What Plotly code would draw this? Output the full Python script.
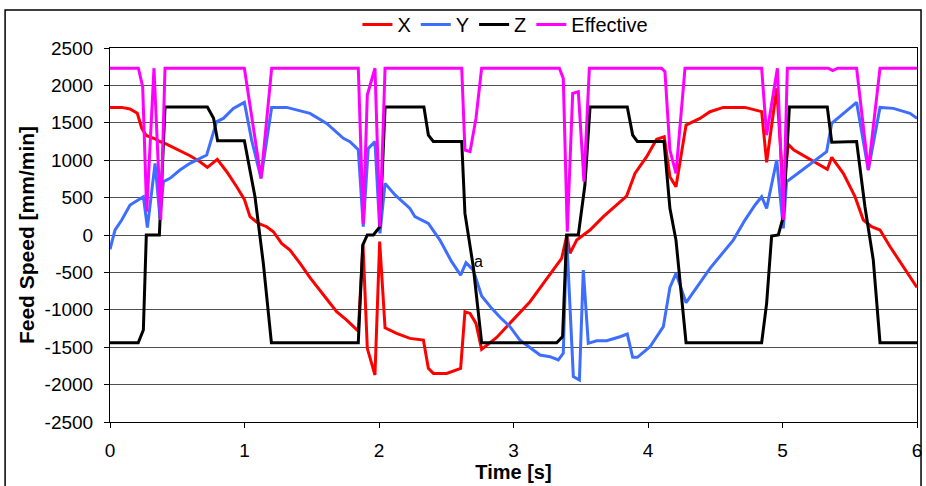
import plotly.graph_objects as go

# ---- data ----
x_t = [0, 0.087, 0.149, 0.203, 0.236, 0.27, 0.33, 0.37, 0.409, 0.533, 0.595, 0.669, 0.724, 0.798,
       0.868, 0.942, 0.999, 1.041, 1.103, 1.165, 1.215, 1.276, 1.338, 1.413, 1.487, 1.598, 1.685,
       1.76, 1.846, 1.881, 1.913, 1.97, 2.005, 2.045, 2.131, 2.23, 2.33, 2.367, 2.404, 2.503, 2.607,
       2.639, 2.677, 2.721, 2.763, 2.875, 2.999, 3.123, 3.222, 3.284, 3.358, 3.397, 3.42, 3.47,
       3.569, 3.668, 3.767, 3.841, 3.903, 3.99, 4.064, 4.121, 4.163, 4.208, 4.283, 4.386, 4.461,
       4.56, 4.721, 4.796, 4.845, 4.882, 4.957, 5.006, 5.043, 5.085, 5.13, 5.229, 5.333, 5.366,
       5.452, 5.539, 5.601, 5.663, 5.725, 5.8, 5.898, 6.0]
x_v = [1706, 1706, 1685, 1627, 1427, 1330, 1290, 1250, 1226, 1114, 1060, 980, 904, 1011,
       846, 646, 476, 245, 155, 111, 44, -112, -201, -380, -570, -825, -1026,
       -1137, -1285, -130, -1515, -1872, -89, -1240, -1316, -1382, -1405, -1783, -1850, -1850, -1783,
       -1026, -1048, -1182, -1529, -1369, -1137, -892, -647, -491, -313, 0, -245, -67,
       67, 245, 401, 521, 824, 1047, 1279, 1314, 779, 646, 1470, 1559, 1648,
       1706, 1706, 1671, 1649, 972, 1961, 600, 1212, 1136, 1090, 980, 877, 1038,
       824, 512, 200, 111, 66, -157, -424, -700]

y_t = [0, 0.037, 0.087, 0.149, 0.248, 0.278, 0.335, 0.372, 0.397, 0.446, 0.52, 0.595, 0.719,
       0.793, 0.843, 0.917, 0.999, 1.053, 1.123, 1.202, 1.314, 1.413, 1.487, 1.611, 1.735, 1.784,
       1.846, 1.883, 1.92, 1.97, 2.007, 2.045, 2.119, 2.23, 2.267, 2.367, 2.453, 2.54, 2.607, 2.647,
       2.701, 2.763, 2.838, 2.9, 2.974, 3.048, 3.197, 3.271, 3.333, 3.37, 3.395, 3.445, 3.49, 3.519,
       3.556, 3.618, 3.693, 3.792, 3.846, 3.886, 3.921, 4.015, 4.114, 4.163, 4.208, 4.283, 4.349,
       4.461, 4.634, 4.721, 4.796, 4.845, 4.882, 4.957, 5.006, 5.03, 5.13, 5.229, 5.328, 5.366,
       5.452, 5.551, 5.638, 5.725, 5.824, 5.948, 6.0]
y_v = [-192, 66, 200, 400, 512, 98, 958, 223, 713, 758, 869, 958, 1069,
       1515, 1559, 1693, 1773, 1270, 757, 1706, 1706, 1660, 1626, 1492, 1292, 1248,
       1140, 111, 1159, 1248, 22, 690, 535, 356, 245, 155, -68, -357, -536, -370,
       -469, -816, -981, -1100, -1226, -1405, -1605, -1627, -1671, -1582, -22, -1894, -1939, -468,
       -1448, -1414, -1414, -1360, -1324, -1636, -1636, -1494, -1226, -700, -513, -905, -736,
       -446, -68, 200, 401, 512, 356, 1003, 89, 713, 846, 980, 1114, 1492,
       1626, 1773, 869, 1706, 1693, 1626, 1559]

z_t = [0, 0.21, 0.248, 0.27, 0.367, 0.409, 0.724, 0.77, 0.80, 0.999, 1.078, 1.14, 1.20,
       1.846, 1.879, 1.913, 1.958, 2.007, 2.045, 2.334, 2.367, 2.404, 2.615, 2.639, 2.701, 2.763,
       3.321, 3.365, 3.395, 3.482, 3.531, 3.569, 3.846, 3.886, 3.921, 4.119, 4.163, 4.208, 4.283,
       4.845, 4.882, 4.919, 4.969, 5.006, 5.051, 5.333, 5.366, 5.551, 5.613, 5.675, 5.725, 6.0]
z_v = [-1440, -1440, -1270, 0, 0, 1710, 1710, 1560, 1260, 1260, 512, -380, -1440,
       -1440, -134, 0, 0, 111, 1710, 1710, 1336, 1250, 1250, 289, -424, -1440,
       -1440, -1359, 0, 0, 668, 1710, 1710, 1336, 1250, 1250, 356, -68, -1440,
       -1440, -914, -14, 0, 245, 1710, 1710, 1240, 1250, 378, -335, -1440, -1440]

e_t = [0, 0.211, 0.243, 0.273, 0.327, 0.377, 0.409, 0.999, 1.123, 1.202, 1.846, 1.883, 1.913,
       1.97, 2.007, 2.045, 2.615, 2.639, 2.677, 2.721, 2.763, 3.341, 3.37, 3.4, 3.44, 3.482, 3.524,
       3.564, 4.101, 4.126, 4.163, 4.208, 4.275, 4.845, 4.882, 4.962, 5.006, 5.036, 5.341, 5.373,
       5.41, 5.551, 5.638, 5.725, 6.0]
e_v = [2230, 2230, 1983, 312, 2230, 200, 2230, 2230, 757, 2230, 2230, 150, 1872,
       2230, 111, 2230, 2230, 1136, 1114, 1559, 2230, 2230, 2094, 45, 1894, 1916, 713,
       2230, 2230, 2183, 1136, 824, 2230, 2230, 1336, 2230, 200, 2230, 2230, 2197,
       2230, 2230, 869, 2230, 2230]

y_ticks = list(range(-2500, 2501, 500))
y_ticktext = [str(v) for v in y_ticks]
x_ticks = [0, 1, 2, 3, 4, 5, 6]

FONT = "Arial, Liberation Sans, sans-serif"

fig = go.Figure()
fig.add_trace(go.Scatter(x=x_t, y=x_v, mode="lines", name="X", line=dict(color="#FF0000", width=3)))
fig.add_trace(go.Scatter(x=y_t, y=y_v, mode="lines", name="Y", line=dict(color="#3D6EFF", width=3)))
fig.add_trace(go.Scatter(x=z_t, y=z_v, mode="lines", name="Z", line=dict(color="#000000", width=3)))
fig.add_trace(go.Scatter(x=e_t, y=e_v, mode="lines", name="Effective", line=dict(color="#FF00FF", width=3)))

fig.add_annotation(x=2.74, y=-360, text="a", showarrow=False, font=dict(family=FONT, size=16, color="black"))

fig.add_shape(type="rect", xref="paper", yref="paper", x0=-0.130, x1=1.005, y0=-0.3, y1=1.1016,
              line=dict(color="black", width=1.5), layer="below")

fig.update_layout(
    width=926, height=486,
    margin=dict(l=110, r=9, t=48, b=64, autoexpand=False),
    paper_bgcolor="white", plot_bgcolor="white",
    font=dict(family=FONT, size=19, color="black"),
    showlegend=True,
    legend=dict(orientation="h", x=0.49, xanchor="center", y=1.063, yanchor="middle",
                font=dict(family=FONT, size=20), bgcolor="rgba(0,0,0,0)",
                tracegroupgap=0),
    xaxis=dict(range=[0, 6], tickvals=x_ticks, showgrid=False, zeroline=False, automargin=False,
               showline=True, linecolor="black", linewidth=1, mirror=True,
               ticks="outside", ticklen=5, tickcolor="black",
               tickfont=dict(size=19), ticklabelstandoff=6,
               title=dict(text="<b>Time [s]</b>", font=dict(size=20), standoff=0)),
    yaxis=dict(range=[-2500, 2500], tickvals=y_ticks, ticktext=y_ticktext, automargin=False,
               showgrid=True, gridcolor="#505050", gridwidth=1,
               zeroline=False, showline=True, linecolor="black", linewidth=1, mirror=True,
               ticks="outside", ticklen=5, tickcolor="black",
               tickfont=dict(size=19), ticklabelstandoff=7,
               title=dict(text="<b>Feed Speed [mm/min]</b>", font=dict(size=21), standoff=4)),
)

fig.write_html("out.html", config={"displayModeBar": False},
               post_script="document.body.style.margin='0px';")
